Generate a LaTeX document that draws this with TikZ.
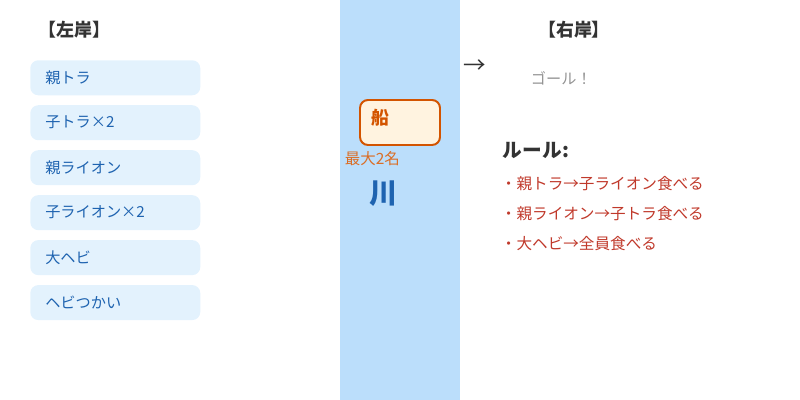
\documentclass[tikz,border=0pt]{standalone}
\usepackage{fontspec}
\setmainfont{Noto Sans CJK JP}
\usetikzlibrary{positioning}

\definecolor{riverblue}{HTML}{BBDEFB}
\definecolor{boxblue}{HTML}{E3F2FD}
\definecolor{nameblue}{HTML}{1E63B0}
\definecolor{boatfill}{HTML}{FFF3E0}
\definecolor{boatline}{HTML}{D35400}
\definecolor{ruleline}{HTML}{C0392B}
\definecolor{titlegray}{HTML}{333333}

\tikzset{
    bank/.style={anchor=west,text=titlegray,font=\fontsize{12.75}{15}\selectfont\bfseries},
    animal/.style={rectangle,rounded corners=0.2cm,fill=boxblue,text=nameblue,
        minimum height=0.875cm,text width=3.5cm,inner xsep=0.375cm,inner ysep=0pt,
        align=left,font=\fontsize{10.8}{13}\selectfont},
    rule/.style={anchor=west,text=ruleline,font=\fontsize{11.1}{13}\selectfont}
}

\begin{document}
\begin{tikzpicture}
    \useasboundingbox (0,0) rectangle (20,-10);

    % river
    \fill[riverblue] (8.5,0) rectangle (11.5,-10);

    % left bank
    \node[bank] (left) at (0.85,-0.75) {【左岸】};

    \node[animal,anchor=north west] (tiger) at (0.75,-1.5) {親トラ};
    \node[animal,below=0.235cm of tiger] (cubs) {子トラ×2};
    \node[animal,below=0.235cm of cubs] (lion) {親ライオン};
    \node[animal,below=0.235cm of lion] (lioncubs) {子ライオン×2};
    \node[animal,below=0.235cm of lioncubs] (snake) {大ヘビ};
    \node[animal,below=0.235cm of snake] (charmer) {ヘビつかい};

    % boat and river
    \node[draw=boatline,line width=1.4pt,fill=boatfill,rounded corners=0.2cm,
        minimum width=2cm,minimum height=1.125cm] (boat) at (10,-3.0625) {};
    \node[anchor=west,text=boatline,font=\fontsize{12.75}{15}\selectfont\bfseries]
        (boatname) at ([xshift=0.2cm,yshift=0.12cm]boat.west) {船};
    \node[anchor=west,text=boatline!85,font=\fontsize{11}{13}\selectfont]
        (capacity) at (8.5,-3.975) {最大2名};
    \node[text=nameblue,font=\fontsize{20}{24}\selectfont\bfseries] (river) at (9.59,-4.84) {川};

    \node[text=titlegray,font=\fontsize{16}{18}\selectfont] (arrow) at (11.86,-1.67) {→};

    % right bank
    \node[bank] (right) at (13.33,-0.75) {【右岸】};
    \node[anchor=west,text=gray!85,font=\fontsize{10.8}{13}\selectfont] (goal) at (13.15,-1.95) {ゴール！};

    % rules
    \node[anchor=west,text=titlegray,font=\fontsize{14}{17}\selectfont\bfseries] (rules) at (12.45,-3.75) {ルール:};
    \node[rule] (rule1) at (12.4,-4.6) {・親トラ→子ライオン食べる};
    \node[rule] (rule2) at (12.4,-5.35) {・親ライオン→子トラ食べる};
    \node[rule] (rule3) at (12.4,-6.1) {・大ヘビ→全員食べる};
\end{tikzpicture}
\end{document}
